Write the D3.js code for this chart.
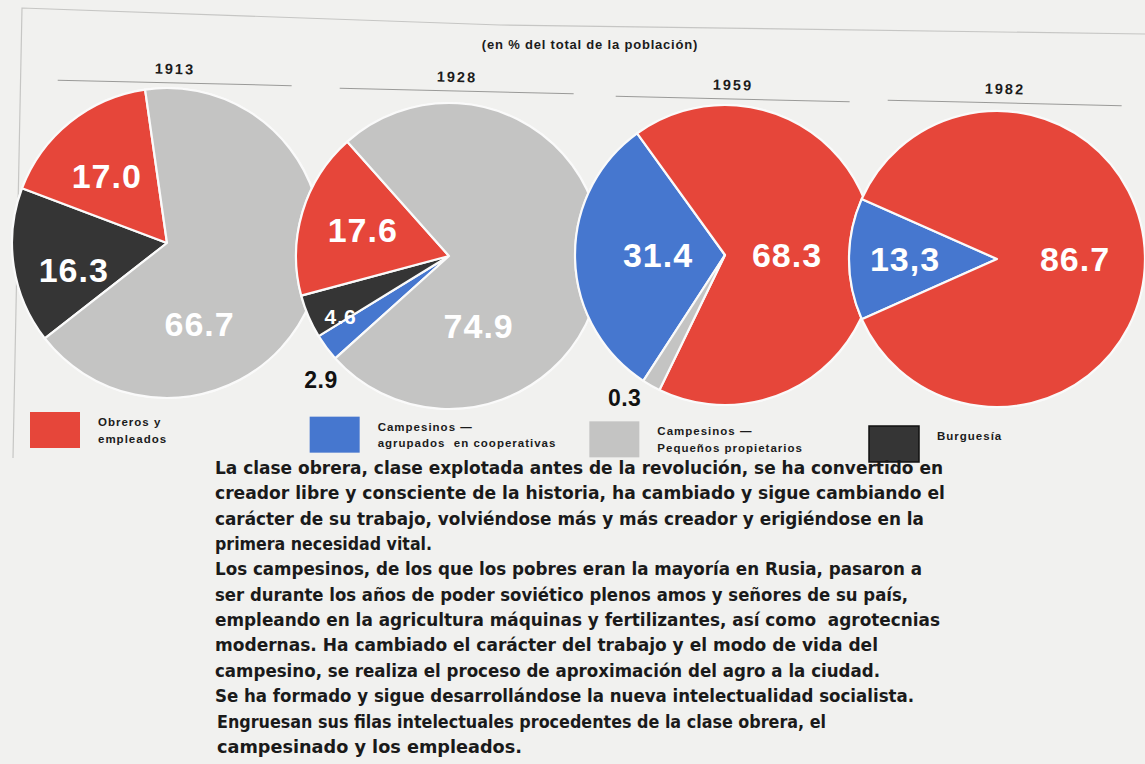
<!DOCTYPE html>
<html>
<script src="https://d3js.org/d3.v7.min.js"></script>

<head>
    <style>
        body {
            margin: 0;
            background-color: #f1f1ef;
            font-family: "Liberation Sans", Arial, Helvetica, sans-serif;
        }

        svg {
            display: block;
        }
    </style>
</head>

<body>
</body>
<script>
    const width = 1145,
        height = 764;

    // values (percent of total population)
    const years = ["1913", "1928", "1959", "1982"];
    const categories = ["obreros", "cooperativas", "propietarios", "burguesia"];
    const obreros = [17.0, 17.6, 68.3, 86.7];
    const cooperativas = [0, 2.9, 31.4, 13.3];
    const propietarios = [66.7, 74.9, 0.3, 0];
    const burguesia = [16.3, 4.6, 0, 0];
    const legendLines = [
        ["Obreros y", "empleados"],
        ["Campesinos —", "agrupados  en cooperativas"],
        ["Campesinos —", "Pequeños propietarios"],
        ["Burguesía"]
    ];
    const paragraph = [
        "La clase obrera, clase explotada antes de la revolución, se ha convertido en",
        "creador libre y consciente de la historia, ha cambiado y sigue cambiando el",
        "carácter de su trabajo, volviéndose más y más creador y erigiéndose en la",
        "primera necesidad vital.",
        "Los campesinos, de los que los pobres eran la mayoría en Rusia, pasaron a",
        "ser durante los años de poder soviético plenos amos y señores de su país,",
        "empleando en la agricultura máquinas y fertilizantes, así como  agrotecnias",
        "modernas. Ha cambiado el carácter del trabajo y el modo de vida del",
        "campesino, se realiza el proceso de aproximación del agro a la ciudad.",
        "Se ha formado y sigue desarrollándose la nueva intelectualidad socialista.",
        "Engruesan sus filas intelectuales procedentes de la clase obrera, el",
        "campesinado y los empleados."
    ];

    const series = { obreros, cooperativas, propietarios, burguesia };
    // clockwise drawing order of the slices
    const sliceOrder = ["cooperativas", "burguesia", "obreros", "propietarios"];

    const color = d3.scaleOrdinal()
        .domain(categories)
        .range(["#e6463a", "#4677cf", "#c4c4c3", "#353535"]);

    // where each pie sits on the page
    const pies = [
        { cx: 167, cy: 243, r: 155, start: 232, headY: 69 },
        { cx: 449, cy: 256, r: 153, start: 228, headY: 77 },
        { cx: 725, cy: 255, r: 150, start: 213, headY: 85 },
        { cx: 997, cy: 259, r: 148, start: 246, headY: 89 }
    ];
    // label placement: [angle in degrees or null for slice middle, distance, outside?]
    const labelPos = [
        { obreros: [318, 90], burguesia: [254, 97], propietarios: [158, 87] },
        { obreros: [null, 90], burguesia: [241, 124, "small"], cooperativas: [226, 178, "out"], propietarios: [157, 76] },
        { cooperativas: [270, 67], obreros: [90, 62], propietarios: [215, 175, "out"] },
        { cooperativas: [270, 92], obreros: [90, 78] }
    ];
    const labelText = (year, key, v) => (year === "1982" && key === "cooperativas") ? "13,3" : d3.format(".1f")(v);

    const svg = d3.select("body").append("svg").attr("width", width).attr("height", height);

    // frame of the printed page
    svg.append("path")
        .attr("d", d3.line()([[13, 458], [22, 8], [500, 25], [1145, 34]]))
        .attr("fill", "none")
        .attr("stroke", "#c6c6c4")
        .attr("stroke-width", 1.2);

    svg.append("text")
        .attr("x", 590)
        .attr("y", 49)
        .attr("text-anchor", "middle")
        .attr("font-size", 13)
        .attr("font-weight", "bold")
        .attr("letter-spacing", 0.8)
        .attr("fill", "#1b1b1b")
        .text("(en % del total de la población)");

    const deg = Math.PI / 180;
    const pie = d3.pie()
        .sort(null)
        .value(d => Math.max(d.value, 2)); // keep tiny slivers visible, as on the plate

    years.forEach((year, i) => {
        const p = pies[i];
        // year heading with its rule, slightly tilted like the photographed page
        const head = svg.append("g")
            .attr("transform", `rotate(1.3, ${p.cx + 8}, ${p.headY})`);
        head.append("text")
            .attr("x", p.cx + 8)
            .attr("y", p.headY + 5)
            .attr("text-anchor", "middle")
            .attr("font-size", 14.5)
            .attr("font-weight", "bold")
            .attr("letter-spacing", 2)
            .attr("fill", "#1b1b1b")
            .text(year);
        head.append("line")
            .attr("x1", p.cx - 109)
            .attr("x2", p.cx + 125)
            .attr("y1", p.headY + 14)
            .attr("y2", p.headY + 14)
            .attr("stroke", "#9a9a98")
            .attr("stroke-width", 1);

        const slices = sliceOrder
            .map(key => ({ key, value: series[key][i] }))
            .filter(d => d.value > 0);
        const arcs = pie.startAngle(p.start * deg).endAngle((p.start + 360) * deg)(slices);
        const arc = d3.arc().innerRadius(0).outerRadius(p.r);

        const g = svg.append("g").attr("transform", `translate(${p.cx},${p.cy})`);
        g.append("circle")
            .attr("r", p.r + 1)
            .attr("fill", "#fafafa");
        g.selectAll("path")
            .data(arcs)
            .join("path")
            .attr("d", arc)
            .attr("fill", d => color(d.data.key))
            .attr("stroke", "#fafafa")
            .attr("stroke-width", 2.2)
            .attr("stroke-linejoin", "round");

        arcs.forEach(d => {
            const spec = labelPos[i][d.data.key];
            const a = spec[0] === null ? (d.startAngle + d.endAngle) / 2 : spec[0] * deg;
            const out = spec[2] === "out",
                small = spec[2] === "small";
            g.append("text")
                .attr("x", spec[1] * Math.sin(a))
                .attr("y", -spec[1] * Math.cos(a))
                .attr("text-anchor", "middle")
                .attr("dominant-baseline", "central")
                .attr("font-size", out ? 23 : small ? 21 : 34)
                .attr("font-weight", "bold")
                .attr("letter-spacing", out ? 0.5 : 1)
                .attr("fill", out ? "#111" : "#fff")
                .text(labelText(year, d.data.key, d.data.value));
        });
    });

    // legend
    const legendX = d3.scaleLinear().domain([0, 3]).range([30, 869]);
    const legendY = d3.scaleLinear().domain([0, 3]).range([412, 426]);
    categories.forEach((c, i) => {
        const x = legendX(i),
            y = legendY(i);
        svg.append("rect")
            .attr("x", x)
            .attr("y", y)
            .attr("width", 50)
            .attr("height", 36)
            .attr("fill", color(c))
            .attr("stroke", c === "burguesia" ? "#111" : "none")
            .attr("stroke-width", 1.5);
        legendLines[i].forEach((t, j) => {
            svg.append("text")
                .attr("x", x + 68)
                .attr("y", y + 14 + j * 16.5)
                .attr("font-size", 11.5)
                .attr("font-weight", "bold")
                .attr("letter-spacing", 1)
                .attr("fill", "#1b1b1b")
                .style("white-space", "pre")
                .text(t);
        });
    });

    // body copy under the chart
    const lineEnds = [943, 945, 924, 432, 922, 908, 940, 878, 880, 914, 826, 522];
    paragraph.forEach((t, i) => {
        const x0 = i >= 10 ? 217 : 215;
        svg.append("text")
            .attr("x", x0)
            .attr("y", 474 + i * 25.35)
            .attr("font-family", "'Liberation Sans Narrow', 'DejaVu Sans Condensed', 'Liberation Sans', sans-serif")
            .attr("font-size", 18)
            .attr("font-weight", "bold")
            .attr("fill", "#1a1a1a")
            .attr("textLength", lineEnds[i] - x0)
            .attr("lengthAdjust", "spacingAndGlyphs")
            .style("white-space", "pre")
            .text(t);
    });
</script>

</html>
